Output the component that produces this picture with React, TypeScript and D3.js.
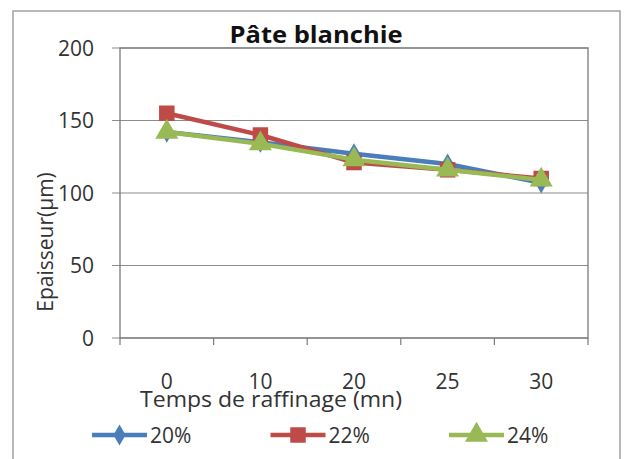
import React from "react";
import * as d3 from "d3";

const categories = ["0", "10", "20", "25", "30"];
const seriesNames = ["20%", "22%", "24%"];
const serie20 = [142, 135, 127, 120, 107];
const serie22 = [155, 140, 121, 116, 110];
const serie24 = [142, 134, 123, 116, 109];
const yTicks = [0, 50, 100, 150, 200];

const colors = ["#4A7EBB", "#BE4B48", "#98B954"];
const shapes = [d3.symbolDiamond, d3.symbolSquare, d3.symbolTriangle];
const sizes = [130, 240, 230];

const width = 624;
const height = 459;
const left = 120, right = 588, top = 48, bottom = 338;
const font = "'Open Sans', 'DejaVu Sans', sans-serif";

export default function App() {
  const x = d3.scaleBand<string>().domain(categories).range([left, right]);
  const y = d3.scaleLinear().domain([0, 200]).range([bottom, top]);
  const all = [serie20, serie22, serie24];

  const line = d3
    .line<number>()
    .x((_, i) => (x(categories[i]) as number) + x.bandwidth() / 2)
    .y((d) => y(d));

  // tick positions on the band edges
  const xTickPos = categories.map((c) => x(c) as number).concat([right]);

  return (
    <svg
      width={width}
      height={height}
      style={{ position: "absolute", left: 0, top: 0, background: "#fff" }}
      fontFamily={font}
    >
      <rect x={13} y={11} width={607} height={470} fill="#fff" stroke="#a0a0a0" strokeWidth={1.5} />

      {/* grid */}
      {yTicks.map((t) => (
        <line key={"g" + t} x1={left - 8} x2={right} y1={y(t)} y2={y(t)} stroke="#8c8c8c" strokeWidth={1.2} />
      ))}
      <rect x={left} y={top} width={right - left} height={bottom - top} fill="none" stroke="#7a7a7a" strokeWidth={1.3} />
      {yTicks.map((t) => (
        <text key={"yt" + t} x={94} y={y(t)} dy="0.36em" textAnchor="end" fontSize={21} fill="#333">
          {t}
        </text>
      ))}
      {xTickPos.map((p, i) => (
        <line key={"xt" + i} x1={p} x2={p} y1={bottom} y2={bottom + 7} stroke="#7a7a7a" strokeWidth={1.2} />
      ))}
      {categories.map((c) => (
        <text key={"xl" + c} x={(x(c) as number) + x.bandwidth() / 2} y={389} textAnchor="middle" fontSize={21} fill="#333">
          {c}
        </text>
      ))}

      {/* series */}
      {all.map((s, k) => (
        <g key={"s" + k}>
          <path d={line(s) || ""} fill="none" stroke={colors[k]} strokeWidth={4.5} strokeLinejoin="round" />
          {s.map((v, i) => (
            <path
              key={i}
              d={d3.symbol().type(shapes[k]).size(sizes[k])() || ""}
              transform={`translate(${(x(categories[i]) as number) + x.bandwidth() / 2},${y(v)})`}
              fill={colors[k]}
            />
          ))}
        </g>
      ))}

      {/* titles */}
      <text x={316} y={43} textAnchor="middle" fontSize={24} fontWeight="bold" fill="#111" textLength={173} lengthAdjust="spacingAndGlyphs">
        Pâte blanchie
      </text>
      <text x={271} y={407} textAnchor="middle" fontSize={21} fill="#333" textLength={262} lengthAdjust="spacingAndGlyphs">
        Temps de raffinage (mn)
      </text>
      <text transform="translate(53,242) rotate(-90)" textAnchor="middle" fontSize={21} fill="#333">
        Epaisseur(µm)
      </text>

      {/* legend */}
      {seriesNames.map((n, k) => {
        const lx = 92 + k * 178.5;
        return (
          <g key={"lg" + k}>
            <line x1={lx} x2={lx + 55} y1={435} y2={435} stroke={colors[k]} strokeWidth={4.5} />
            <path d={d3.symbol().type(shapes[k]).size(sizes[k])() || ""} transform={`translate(${lx + 27.5},435)`} fill={colors[k]} />
            <text x={lx + 58} y={435} dy="0.36em" fontSize={21} fill="#333">
              {n}
            </text>
          </g>
        );
      })}
    </svg>
  );
}
